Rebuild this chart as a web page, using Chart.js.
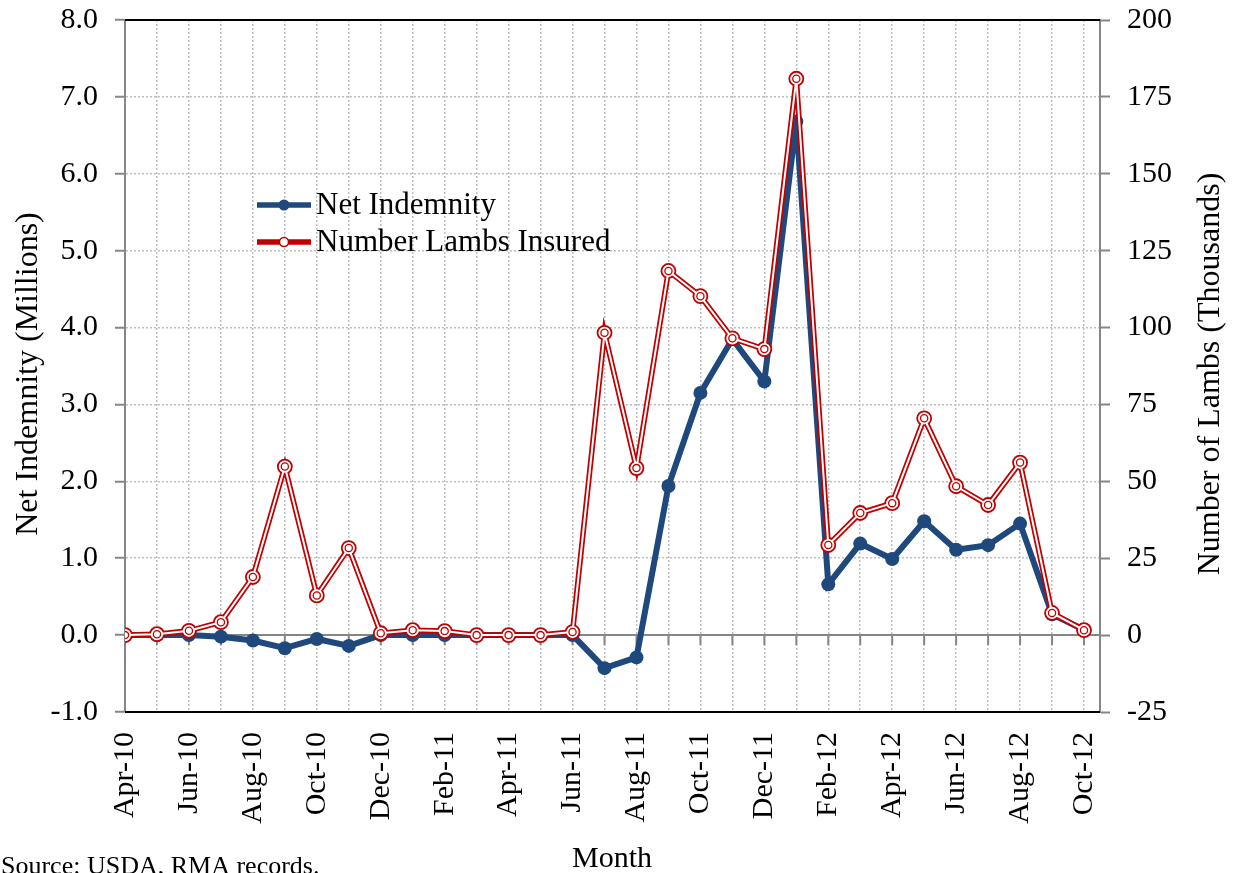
<!DOCTYPE html>
<html>
<head>
<meta charset="utf-8">
<title>Net Indemnity and Number of Lambs Insured</title>
<script src="https://cdn.jsdelivr.net/npm/chart.js@4.4.1/dist/chart.umd.min.js"></script>
<style>
  html, body { margin: 0; padding: 0; background: #fff; }
  #wrap { width: 1233px; height: 873px; position: relative; }
</style>
</head>
<body>
<div id="wrap"><canvas id="chart" width="1233" height="873"></canvas></div>
<script>
// --- Data ---
const months = [
  'Apr-10', 'May-10', 'Jun-10', 'Jul-10', 'Aug-10', 'Sep-10', 'Oct-10', 'Nov-10',
  'Dec-10', 'Jan-11', 'Feb-11', 'Mar-11', 'Apr-11', 'May-11', 'Jun-11', 'Jul-11',
  'Aug-11', 'Sep-11', 'Oct-11', 'Nov-11', 'Dec-11', 'Jan-12', 'Feb-12', 'Mar-12',
  'Apr-12', 'May-12', 'Jun-12', 'Jul-12', 'Aug-12', 'Sep-12', 'Oct-12'
];

// Net indemnity, millions of dollars (left axis)
const netIndemnity = [
  0.00, 0.00, 0.00, -0.02, -0.07, -0.17, -0.05, -0.14,
  0.00, 0.00, 0.00, 0.00, 0.00, 0.00, 0.00, -0.43,
  -0.29, 1.94, 3.15, 3.85, 3.30, 6.68, 0.66, 1.19,
  0.99, 1.48, 1.11, 1.17, 1.45, 0.27, 0.07
];

// Number of lambs insured, thousands (right axis)
const lambsInsured = [
  0.0, 0.3, 1.4, 4.2, 18.9, 54.8, 12.9, 28.3,
  0.6, 1.6, 1.3, 0.0, 0.0, 0.0, 1.0, 98.3,
  54.3, 118.4, 110.2, 96.5, 93.0, 180.9, 29.3, 39.7,
  42.9, 70.5, 48.4, 42.3, 56.1, 7.2, 1.6
];

const leftTicks = [-1, 0, 1, 2, 3, 4, 5, 6, 7, 8];
const rightTicks = [-25, 0, 25, 50, 75, 100, 125, 150, 175, 200];

const seriesNames = ['Net Indemnity', 'Number Lambs Insured'];
const axisTitles = ['Net Indemnity (Millions)', 'Number of Lambs (Thousands)', 'Month'];
const sourceNote = 'Source: USDA, RMA records.';

const BLUE = '#1F497D';
const RED = '#C00000';
const AXIS = '#868686';
const GRID = '#BFBFBF';
const FONT = '"Liberation Serif", "Times New Roman", Times, serif';

const toPoints = arr => arr.map((v, i) => ({ x: i, y: v }));

// keep the plot box fixed: no extra room for half tick labels
const fixVertical = width => scale => {
  scale.width = width;
  scale.paddingTop = 0;
  scale.paddingBottom = 0;
};

// zero line, month ticks on it, black top/bottom frame, titles, legend
const framePlugin = {
  id: 'frame',
  beforeDatasetsDraw(chart) {
    const { ctx, chartArea, scales } = chart;
    const y0 = scales.y.getPixelForValue(0);
    ctx.save();
    ctx.strokeStyle = AXIS;
    ctx.lineWidth = 2;
    ctx.beginPath();
    ctx.moveTo(chartArea.left, y0);
    ctx.lineTo(chartArea.right, y0);
    months.forEach((m, i) => {
      const x = scales.x.getPixelForValue(i);
      ctx.moveTo(x, y0);
      ctx.lineTo(x, y0 + 10);
    });
    ctx.stroke();

    ctx.strokeStyle = '#000';
    ctx.lineWidth = 2;
    ctx.beginPath();
    ctx.moveTo(chartArea.left, chartArea.top);
    ctx.lineTo(chartArea.right, chartArea.top);
    ctx.moveTo(chartArea.left, chartArea.bottom);
    ctx.lineTo(chartArea.right, chartArea.bottom);
    ctx.stroke();
    ctx.restore();
  },
  afterDraw(chart) {
    const { ctx } = chart;
    ctx.save();
    ctx.fillStyle = '#000';

    // axis titles
    ctx.font = '32px ' + FONT;
    ctx.textAlign = 'center';
    ctx.textBaseline = 'middle';
    ctx.save();
    ctx.translate(29, 374);
    ctx.rotate(-Math.PI / 2);
    ctx.fillText(axisTitles[0], 0, 0);
    ctx.restore();
    ctx.save();
    ctx.translate(1211, 374);
    ctx.rotate(-Math.PI / 2);
    ctx.fillText(axisTitles[1], 0, 0);
    ctx.restore();

    ctx.font = '30px ' + FONT;
    ctx.textBaseline = 'alphabetic';
    ctx.fillText(axisTitles[2], 612, 867);

    ctx.textAlign = 'left';
    ctx.font = '26px ' + FONT;
    ctx.fillText(sourceNote, 1, 874);

    // legend
    const lx = 257, lw = 54;
    const rows = [205, 242];
    ctx.lineCap = 'butt';
    ctx.strokeStyle = BLUE;
    ctx.lineWidth = 5.5;
    ctx.beginPath();
    ctx.moveTo(lx, rows[0]);
    ctx.lineTo(lx + lw, rows[0]);
    ctx.stroke();
    ctx.fillStyle = BLUE;
    ctx.beginPath();
    ctx.arc(lx + lw / 2, rows[0], 5.5, 0, Math.PI * 2);
    ctx.fill();

    ctx.strokeStyle = RED;
    ctx.lineWidth = 5.5;
    ctx.beginPath();
    ctx.moveTo(lx, rows[1]);
    ctx.lineTo(lx + lw, rows[1]);
    ctx.stroke();
    ctx.fillStyle = '#fff';
    ctx.lineWidth = 1.5;
    ctx.beginPath();
    ctx.arc(lx + lw / 2, rows[1], 4.5, 0, Math.PI * 2);
    ctx.fill();
    ctx.stroke();

    ctx.fillStyle = '#000';
    ctx.font = '31px ' + FONT;
    ctx.textBaseline = 'middle';
    ctx.fillText(seriesNames[0], 316, rows[0] + 1);
    ctx.fillText(seriesNames[1], 316, rows[1] + 1);
    ctx.restore();
  }
};

const ctx = document.getElementById('chart').getContext('2d');
new Chart(ctx, {
  type: 'line',
  data: {
    datasets: [
      {
        // white core of the red double line
        label: seriesNames[1] + ' core',
        data: toPoints(lambsInsured),
        yAxisID: 'y1',
        borderColor: '#fff',
        borderWidth: 2,
        pointRadius: 3.6,
        pointBackgroundColor: '#fff',
        pointBorderColor: RED,
        pointBorderWidth: 1.3,
        order: 0
      },
      {
        label: seriesNames[1],
        data: toPoints(lambsInsured),
        yAxisID: 'y1',
        borderColor: RED,
        borderWidth: 5.5,
        pointRadius: 7,
        pointBackgroundColor: '#fff',
        pointBorderColor: RED,
        pointBorderWidth: 1.8,
        order: 1
      },
      {
        label: seriesNames[0],
        data: toPoints(netIndemnity),
        yAxisID: 'y',
        borderColor: BLUE,
        borderWidth: 6,
        pointRadius: 7,
        pointBackgroundColor: BLUE,
        pointBorderColor: BLUE,
        pointBorderWidth: 0,
        order: 2
      }
    ]
  },
  options: {
    responsive: false,
    animation: false,
    layout: { padding: { top: 20, bottom: 0, left: 0, right: 0 } },
    plugins: {
      legend: { display: false },
      tooltip: { enabled: false }
    },
    scales: {
      x: {
        type: 'linear',
        min: 0,
        max: 30.5,
        afterBuildTicks: scale => { scale.ticks = months.map((m, i) => ({ value: i })); },
        afterFit: scale => { scale.height = 161; scale.paddingLeft = 0; scale.paddingRight = 0; },
        ticks: {
          autoSkip: false,
          minRotation: 90,
          maxRotation: 90,
          padding: 20,
          color: '#000',
          font: { family: FONT, size: 30 },
          callback: v => (v % 2 === 0 ? months[v] : '')
        },
        grid: {
          color: GRID,
          lineWidth: 1.5,
          drawTicks: false
        },
        border: { display: false, dash: [2, 2] }
      },
      y: {
        position: 'left',
        min: -1,
        max: 8,
        afterBuildTicks: scale => { scale.ticks = leftTicks.map(v => ({ value: v })); },
        afterFit: fixVertical(125),
        ticks: {
          padding: 17,
          color: '#000',
          font: { family: FONT, size: 30 },
          callback: v => v.toFixed(1)
        },
        grid: {
          color: GRID,
          lineWidth: 1.5,
          tickLength: 10,
          tickColor: AXIS,
          tickWidth: 2,
          tickBorderDash: []
        },
        border: { color: AXIS, width: 2, dash: [2, 2] }
      },
      y1: {
        position: 'right',
        min: -25,
        max: 200,
        afterBuildTicks: scale => { scale.ticks = rightTicks.map(v => ({ value: v })); },
        afterFit: fixVertical(133),
        ticks: {
          padding: 17,
          color: '#000',
          font: { family: FONT, size: 30 },
          callback: v => String(v)
        },
        grid: {
          drawOnChartArea: false,
          tickLength: 10,
          tickColor: AXIS,
          tickWidth: 2,
          tickBorderDash: []
        },
        border: { color: AXIS, width: 2 }
      }
    }
  },
  plugins: [framePlugin]
});
</script>
</body>
</html>
